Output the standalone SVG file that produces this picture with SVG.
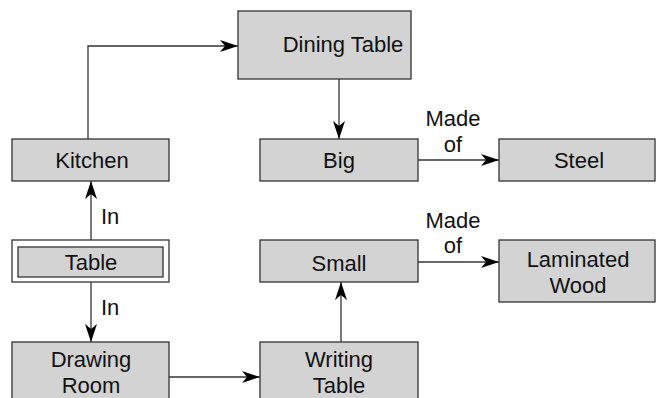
<svg xmlns="http://www.w3.org/2000/svg" width="656" height="398" viewBox="0 0 656 398">
  <defs>
    <marker id="arrow" markerUnits="userSpaceOnUse" markerWidth="20" markerHeight="14" refX="18" refY="7" orient="auto">
      <path d="M0,1 L18,7 L0,13 L5,7 z" fill="#000"/>
    </marker>
    <style>
      .box { fill: #d3d3d3; stroke: #333; stroke-width: 1.3; }
      .frame { fill: #fff; stroke: #333; stroke-width: 1.3; }
      .lbl { font-family: "Liberation Sans", Arial, sans-serif; font-size: 22px; fill: #111; text-anchor: middle; }
      .edge { fill: none; stroke: #333; stroke-width: 1.3; marker-end: url(#arrow); }
    </style>
  </defs>

  <g id="connectors">
    <path class="edge" d="M88,139 V46 H238"/>
    <path class="edge" d="M339,79 V139"/>
    <path class="edge" d="M418,160 H499"/>
    <path class="edge" d="M91,240 V181"/>
    <path class="edge" d="M91,282 V342"/>
    <path class="edge" d="M169,377 H260"/>
    <path class="edge" d="M341,342 V282"/>
    <path class="edge" d="M418,262 H499"/>
    <text class="lbl" x="101" y="224" style="text-anchor:start">In</text>
    <text class="lbl" x="101" y="315" style="text-anchor:start">In</text>
    <text class="lbl" x="453" y="126">Made</text>
    <text class="lbl" x="453" y="152">of</text>
    <text class="lbl" x="453" y="228">Made</text>
    <text class="lbl" x="453" y="253">of</text>
  </g>

  <g id="dining-table">
    <rect class="box" x="238" y="11" width="173" height="68"/>
    <text class="lbl" x="343" y="52">Dining Table</text>
  </g>
  <g id="kitchen">
    <rect class="box" x="12" y="139" width="157" height="42"/>
    <text class="lbl" x="92" y="168">Kitchen</text>
  </g>
  <g id="big">
    <rect class="box" x="260" y="139" width="158" height="42"/>
    <text class="lbl" x="339" y="168">Big</text>
  </g>
  <g id="steel">
    <rect class="box" x="499" y="139" width="156" height="42"/>
    <text class="lbl" x="579" y="168">Steel</text>
  </g>
  <g id="table">
    <rect class="frame" x="12" y="240" width="157" height="42"/>
    <rect class="box" x="18" y="247" width="145" height="30"/>
    <text class="lbl" x="91" y="270">Table</text>
  </g>
  <g id="small">
    <rect class="box" x="260" y="240" width="158" height="42"/>
    <text class="lbl" x="339" y="271">Small</text>
  </g>
  <g id="laminated-wood">
    <rect class="box" x="499" y="240" width="156" height="62"/>
    <text class="lbl" x="578" y="267">Laminated</text>
    <text class="lbl" x="578" y="293">Wood</text>
  </g>
  <g id="drawing-room">
    <rect class="box" x="12" y="342" width="157" height="70"/>
    <text class="lbl" x="91" y="367">Drawing</text>
    <text class="lbl" x="91" y="393">Room</text>
  </g>
  <g id="writing-table">
    <rect class="box" x="260" y="342" width="158" height="70"/>
    <text class="lbl" x="339" y="367">Writing</text>
    <text class="lbl" x="339" y="393">Table</text>
  </g>
</svg>
